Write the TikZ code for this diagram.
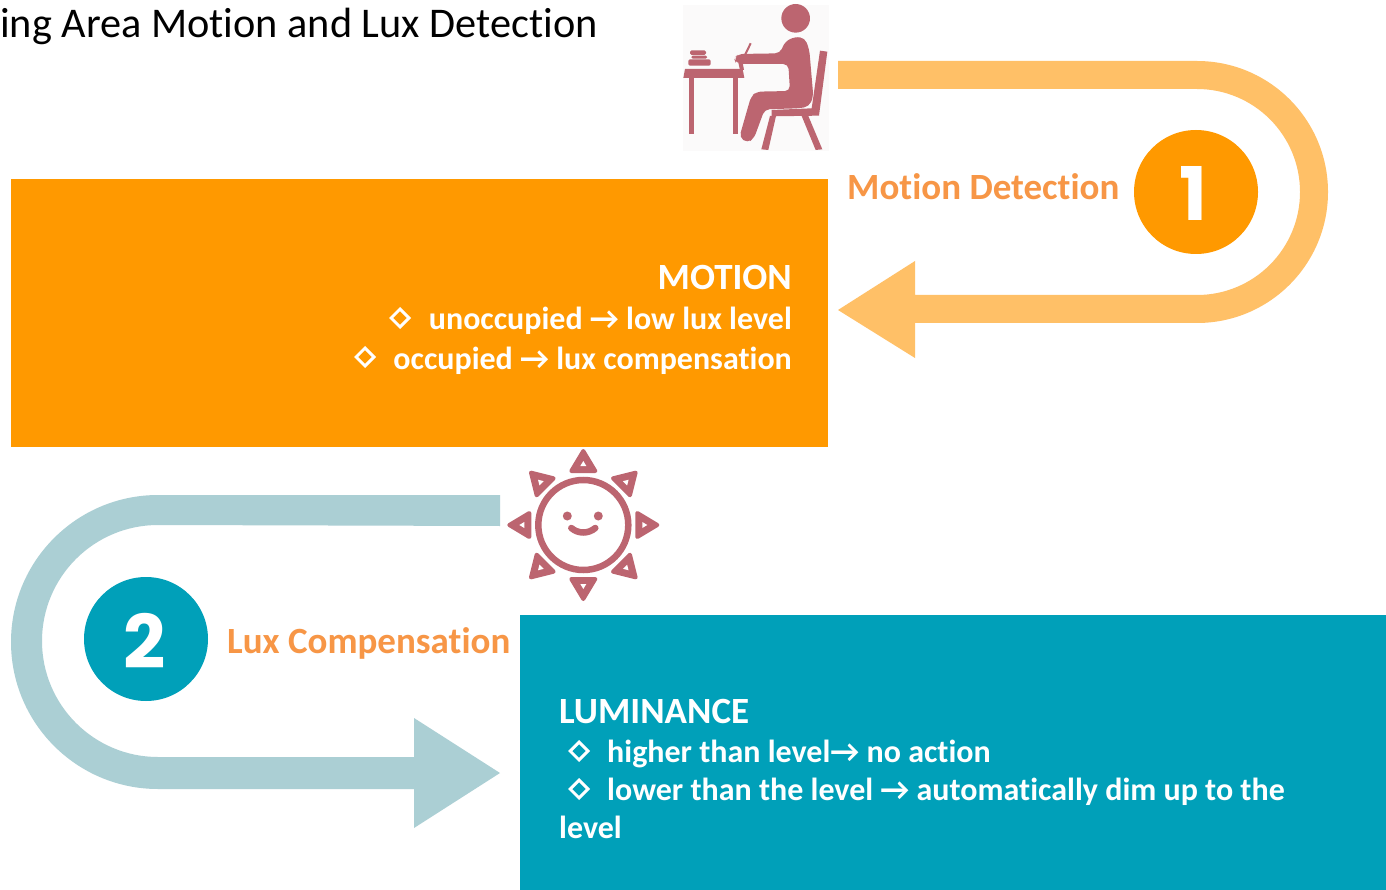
\documentclass[tikz,border=0pt]{standalone}
\usepackage{fontspec}
\usetikzlibrary{shapes.geometric}
\setmainfont[RawFeature=-liga]{Carlito}
\newfontfamily\numfont{Poppins}
\definecolor{orangebox}{HTML}{FF9900}
\definecolor{tealbox}{HTML}{00A0B9}
\definecolor{arrowone}{HTML}{FFC067}
\definecolor{arrowtwo}{HTML}{ABCFD4}
\definecolor{labelorange}{HTML}{F79646}
\definecolor{iconred}{HTML}{BC6570}
\definecolor{iconbg}{HTML}{FBFAFA}
\newcommand{\fsz}[1]{\fontsize{#1pt}{#1pt}\selectfont}
\tikzset{
 ln/.style={white,font=\fsz{32}\bfseries,anchor=base east,inner sep=0pt},
 ll/.style={white,font=\fsz{32}\bfseries,anchor=base west,inner sep=0pt},
 hd/.style={white,font=\fsz{37}\bfseries,inner sep=0pt},
 lab/.style={labelorange,font=\fsz{37}\bfseries,anchor=base west,inner sep=0pt},
 num/.style={white,font=\numfont\fsz{74}\bfseries,inner sep=0pt,anchor=base},
 dia/.style={diamond,draw=white,line width=3pt,minimum size=19pt,inner sep=0pt},
 ray/.style={fill=iconred,draw=iconred,line join=round,line width=4pt},
}
\begin{document}
\begin{tikzpicture}[x=1pt,y=-1pt]
\useasboundingbox (0,0) rectangle (1386,890);
\fill[white] (0,0) rectangle (1386,890);
% title
\node[anchor=base west,inner sep=0pt,font=\fsz{42.3},black] (title) at (0,37.5) {ing Area Motion and Lux Detection};
% boxes
\fill[orangebox] (11,179) rectangle (828,447);
\fill[tealbox] (520,614.5) rectangle (1386,890);
% arrow 1
\fill[arrowone] (838,61) -- (1197,61) arc[start angle=-90,end angle=90,radius=131] -- (915,323) -- (915,358) -- (838,310) -- (915,261) -- (915,295) -- (1197,295) arc[start angle=90,end angle=-90,radius=103] -- (838,89) -- cycle;
% arrow 2
\fill[arrowtwo] (500,495) -- (158,495) arc[start angle=270,end angle=90,radius=147] -- (414,789) -- (414,828) -- (500,773) -- (414,718) -- (414,757) -- (158,757) arc[start angle=90,end angle=270,radius=116] -- (500,526) -- cycle;
% circles
\node[circle,fill=orangebox,minimum size=124pt,inner sep=0pt] (c1) at (1196,192) {};
\node[circle,fill=tealbox,minimum size=124pt,inner sep=0pt] (c2) at (146,639) {};
\node[num] (n1) at (1193,221) {1};
\node[num] (n2) at (145,668) {2};
% labels
\node[lab] (l1) at (847,200) {Motion Detection};
\node[lab] (l2) at (227,653) {Lux Compensation};
% motion text
\node[hd,anchor=base east] (mh) at (792,290) {MOTION};
\node[ln] (m1) at (792,330) {unoccupied → low lux level};
\node[ln] (m2) at (792,369) {occupied → lux compensation};
\node[dia] (d1) at (400,318) {};
\node[dia] (d2) at (365,357) {};
% luminance text
\node[hd,anchor=base west] (lh) at (559,723) {LUMINANCE};
\node[ll] (t1) at (607,762.5) {higher than level→ no action};
\node[ll] (t2) at (607,800.5) {lower than the level → automatically dim up to the};
\node[ll] (t3) at (559,838.5) {level};
\node[dia] (d3) at (579,751) {};
\node[dia] (d4) at (579,789) {};
% person icon (coordinates from a 3x crop at 670,0)
\begin{scope}[shift={(670,0)},x=0.3333pt,y=-0.3333pt]
\fill[iconbg] (38,14) rectangle (476,452);
\fill[iconred] (377,55) circle[radius=43];
\fill[iconred,rounded corners=5pt] (192,175) -- (205,162) -- (330,160) -- (345,125) -- (375,110) -- (405,114) -- (418,150) -- (430,290) -- (417,320) -- (385,325) -- (284,328) -- (252,415) -- (232,429) -- (208,412) -- (243,290) -- (260,275) -- (360,273) -- (355,192) -- (220,192) -- (198,190) -- cycle;
\draw[iconred,line width=2pt] (225,165) -- (242,130);
\fill[iconred] (205,188) -- (218,188) -- (222,210) -- (210,210) -- cycle;
\fill[iconred] (450,152) -- (472,155) -- (447,347) -- (305,349) -- (305,330) -- (425,325) -- cycle;
\fill[iconred] (318,348) -- (295,450) -- (274,448) -- (300,348) -- cycle;
\fill[iconred] (395,348) -- (415,348) -- (457,448) -- (437,450) -- cycle;
\fill[iconred] (45,207) -- (218,207) -- (223,234) -- (40,234) -- cycle;
\fill[iconred] (58,234) rectangle (72,403);
\fill[iconred] (190,234) rectangle (204,403);
\fill[iconred,rounded corners=1.5pt] (60,151) rectangle (108,165);
\fill[iconred,rounded corners=1.5pt] (64,167) rectangle (112,176);
\fill[iconred,rounded corners=1.5pt] (55,178) rectangle (122,197);
\end{scope}
% sun icon
\begin{scope}[shift={(583.3,525)}]
\draw[iconred,line width=6.5pt] (0,0) circle[radius=45];
\foreach \a in {0,45,...,315}{
 \begin{scope}[rotate=\a]
 \fill[ray] (0,-74) -- (12,-54) -- (-12,-54) -- cycle;
 \fill[white] (0,-64) -- (3,-59) -- (-3,-59) -- cycle;
 \end{scope}
}
\fill[iconred] (-16,-9) circle[radius=4.5];
\fill[iconred] (15,-9) circle[radius=4.5];
\draw[iconred,line width=6.5pt,line cap=round] (-12,3) .. controls (-5,9) and (5,9) .. (12,3);
\end{scope}
\end{tikzpicture}
\end{document}
